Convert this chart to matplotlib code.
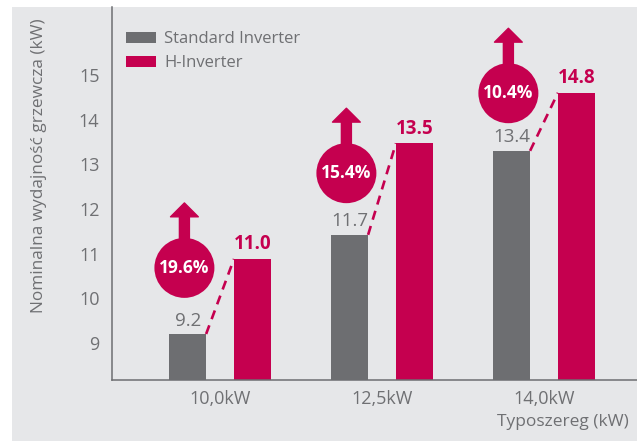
import matplotlib.pyplot as plt
from matplotlib.patches import Rectangle

# data
groups = ['10,0kW', '12,5kW', '14,0kW']
standard = [9.2, 11.42, 13.3]          # bar heights as drawn
h_inverter = [10.88, 13.47, 14.6]
standard_labels = ['9.2', '11.7', '13.4']
h_labels = ['11.0', '13.5', '14.8']
gains = ['19.6%', '15.4%', '10.4%']
yticks = [9, 10, 11, 12, 13, 14, 15]

# layout (badge centres, data units)
badge_dx = -0.02
badge_y = [10.68, 12.8, 14.59]

GRAY = '#6d6e71'
RED = '#c5004f'
BG = '#e6e7e9'
TXT = '#6f7073'

plt.rcParams['font.family'] = ['Open Sans', 'DejaVu Sans']

W, H = 637, 441
fig = plt.figure(figsize=(W / 100, H / 100), dpi=100)
fig.patch.set_facecolor('white')
fig.patches.append(Rectangle((12 / W, 0), 1, (H - 7) / H, transform=fig.transFigure,
                             facecolor=BG, edgecolor='none', zorder=-5))

ax = fig.add_axes([112 / W, (H - 380) / H, (W - 112) / W, 373 / H])
ax.set_facecolor('none')

x = list(range(len(groups)))
off = 0.2
bw = 0.228
xs = [i - off for i in x]
xh = [i + off for i in x]
ax.bar(xs, standard, width=bw, bottom=0, color=GRAY, label='Standard Inverter', zorder=2)
ax.bar(xh, h_inverter, width=bw, bottom=0, color=RED, label='H-Inverter', zorder=2)

ax.set_ylim(8.17, 16.52)
ax.set_xlim(-0.667, 2.574)

for i in x:
    ax.text(xs[i], standard[i] + 0.1, standard_labels[i], ha='center', va='bottom',
            fontsize=13.5, color=TXT)
    ax.text(xh[i], h_inverter[i] + 0.1, h_labels[i], ha='center', va='bottom',
            fontsize=13.5, color=RED, fontweight='bold')
    # dashed connector
    ax.plot([xs[i] + bw / 2, xh[i] - bw / 2], [standard[i], h_inverter[i]],
            color=RED, lw=1.9, ls=(0, (3.5, 2.5)), zorder=3)
    # arrow + badge
    bx = xs[i] + badge_dx
    ax.annotate('', xy=(bx, badge_y[i] + 65 / 44.7), xytext=(bx, badge_y[i]),
                arrowprops=dict(arrowstyle='simple,head_width=20,head_length=10,tail_width=7.2',
                                mutation_scale=1, color=RED, shrinkA=0, shrinkB=0), zorder=4)
    ax.scatter([bx], [badge_y[i]], s=1866, color=RED, edgecolors='none', zorder=5)
    ax.text(bx, badge_y[i], gains[i], ha='center', va='center', fontsize=12.5,
            color='white', fontweight='bold', zorder=6)

ax.set_yticks(yticks)
ax.set_xticks(x)
ax.set_xticklabels(groups)
ax.tick_params(axis='both', length=0, labelsize=13, labelcolor=TXT)
ax.tick_params(axis='y', pad=9)
ax.tick_params(axis='x', pad=7)
for s in ['top', 'right']:
    ax.spines[s].set_visible(False)
for s in ['left', 'bottom']:
    ax.spines[s].set_color(GRAY)
    ax.spines[s].set_linewidth(1.1)

fig.text(39 / W, 1 - 166 / H, 'Nominalna wydajność grzewcza (kW)', rotation=90,
         ha='center', va='center', fontsize=12.4, color=TXT)
fig.text(629 / W, 1 - 422 / H, 'Typoszereg (kW)', ha='right', va='center',
         fontsize=12.5, color=TXT)

leg = ax.legend(loc='upper left', bbox_to_anchor=(126 / W, 1 - 31 / H),
                bbox_transform=fig.transFigure, frameon=False, fontsize=12,
                handlelength=1.8, handleheight=0.66, handletextpad=0.5,
                labelspacing=0.5, borderpad=0, borderaxespad=0)
for t in leg.get_texts():
    t.set_color(TXT)

fig.savefig('out.png', dpi=100)
